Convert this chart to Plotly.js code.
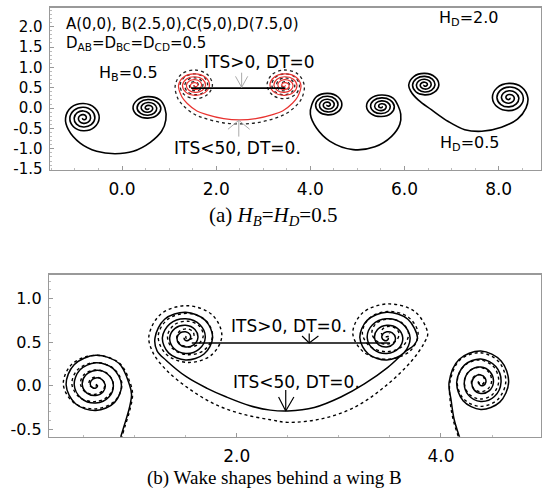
<!DOCTYPE html>
<html><head><meta charset="utf-8">
<script src="https://cdn.plot.ly/plotly-3.0.1.min.js"></script>
<style>html,body{margin:0;padding:0;background:#fff}</style>
</head><body><div id="chart" style="width:542px;height:497px"></div>
<script>
// Normalised vortex-core spiral shape (read from the roll-up), leftmost point first, winding inward
const TEMPLATE_DX = [-1,-0.686,0,0.643,0.88,0.601,0,-0.559,-0.76,-0.516,0,0.474,0.64,0.431,0,-0.389,-0.52,-0.346,0,0.304,0.4,0.262,0,-0.219,-0.28,-0.177,0,0.134,0.16,0.092,0,-0.049,-0.04];
const TEMPLATE_DY = [0,0.686,0.94,0.643,0,-0.601,-0.82,-0.559,0,0.516,0.7,0.474,0,-0.431,-0.58,-0.389,0,0.346,0.46,0.304,0,-0.262,-0.34,-0.219,0,0.177,0.22,0.134,0,-0.092,-0.1,-0.049,0];

// ---- Panel (a): vortices [cx, cy, rx, ry] and wake sheets ----
const A_L = [-0.82, -0.245, 0.38, 0.38];
const A_SHEET_X = [-1.14,-0.89,-0.54,-0.15,0.24,0.6,0.84,0.93];
const A_SHEET_Y = [-0.53,-0.86,-1.06,-1.12,-1.06,-0.84,-0.57,-0.29];
const A_R = [0.55, 0.0, 0.36, 0.3];

const B_RED_L = [1.55, 0.56, 0.35, 0.3];
const B_RED_SHEET_X = [1.27,1.38,1.59,1.8,2.16,2.5,2.84,3.2,3.41,3.62,3.73];
const B_RED_SHEET_Y = [0.28,0.12,-0.07,-0.16,-0.26,-0.29,-0.26,-0.16,-0.07,0.12,0.28];
const B_RED_R = [3.45, 0.56, 0.35, 0.3];

const B_DOT_L = [1.55, 0.56, 0.42, 0.4];
const B_DOT_SHEET_X = [1.18,1.3,1.52,1.78,2.14,2.5,2.86,3.22,3.48,3.7,3.82];
const B_DOT_SHEET_Y = [0.25,0.06,-0.14,-0.26,-0.36,-0.39,-0.36,-0.26,-0.14,0.06,0.25];
const B_DOT_R = [3.45, 0.56, 0.42, 0.4];

const B_LINE_X = [1.47, 3.47];
const B_LINE_Y = [0.49, 0.49];

const C_L = [4.37, 0.08, 0.34, 0.3];
const C_SHEET_X = [4.0,4.13,4.41,4.91,5.37,5.72,5.9,5.92];
const C_SHEET_Y = [-0.15,-0.49,-0.81,-1.02,-0.95,-0.7,-0.4,-0.15];
const C_R = [5.51, 0.04, 0.36, 0.3];

const D_L = [6.43, 0.57, 0.34, 0.3];
const D_SHEET_X = [6.13,6.29,6.57,6.93,7.28,7.64,8.06,8.4,8.58];
const D_SHEET_Y = [0.42,0.2,-0.04,-0.33,-0.53,-0.57,-0.47,-0.27,0.0];
const D_R = [8.22, 0.25, 0.4, 0.38];

const ARROW_A_X = [2.54,2.54,null,2.41,2.54,2.67,null,2.48,2.48,null,2.25,2.48,2.71];
const ARROW_A_Y = [0.87,0.51,null,0.78,0.51,0.78,null,-0.7,-0.3,null,-0.52,-0.3,-0.52];

// ---- Panel (b) ----
const BA_SHEET_X = [0.84,0.9,0.95,0.97];
const BA_SHEET_Y = [-0.68,-0.45,-0.25,-0.1];
const BA_R = [0.62, 0.01, 0.33, 0.36];
const BA_DOT_SHEET_X = [0.85,0.91,0.96,0.98];
const BA_DOT_R = [0.61, 0.02, 0.35, 0.35];

const BB_L = [1.5, 0.55, 0.3, 0.31];
const BB_SHEET_X = [1.22,1.31,1.51,1.71,1.9,2.13,2.33,2.5,2.76,3.02,3.25,3.48,3.64,3.74];
const BB_SHEET_Y = [0.4,0.29,0.1,-0.03,-0.13,-0.23,-0.28,-0.29,-0.25,-0.13,0.02,0.21,0.38,0.47];
const BB_R = [3.47, 0.55, 0.3, 0.31];

const BB_DOT_L = [1.52, 0.57, 0.38, 0.37];
const BB_DOT_SHEET_X = [1.18,1.31,1.54,1.8,2.07,2.33,2.5,2.83,3.15,3.44,3.71,3.84];
const BB_DOT_SHEET_Y = [0.38,0.18,-0.04,-0.22,-0.33,-0.39,-0.42,-0.38,-0.25,-0.02,0.28,0.5];
const BB_DOT_R = [3.48, 0.6, 0.39, 0.36];

const BB_LINE_X = [1.56, 3.5];
const BB_LINE_Y = [0.49, 0.49];

const BC_L = [4.39, 0.04, 0.31, 0.38];
const BC_SHEET_X = [4.1,4.13,4.19,4.21];
const BC_SHEET_Y = [-0.17,-0.39,-0.62,-0.7];
const BC_DOT_L = [4.38, 0.05, 0.29, 0.35];
const BC_DOT_SHEET_X = [4.09,4.12,4.18,4.2];

const ARROW_B_X = [2.71,2.71,null,2.64,2.71,2.8,null,2.48,2.48,null,2.41,2.48,2.56];
const ARROW_B_Y = [0.6,0.49,null,0.57,0.49,0.57,null,-0.05,-0.29,null,-0.13,-0.29,-0.13];

// Tick labels
const XA_TICKS = [0,2,4,6,8];
const XA_LABELS = ['0.0','2.0','4.0','6.0','8.0'];
const YA_TICKS = [-1.5,-1,-0.5,0,0.5,1,1.5,2];
const YA_LABELS = ['-1.5','-1.0','-0.5','0.0','0.5','1.0','1.5','2.0'];
const XB_TICKS = [2,4];
const XB_LABELS = ['2.0','4.0'];
const YB_TICKS = [-0.5,0,0.5,1];
const YB_LABELS = ['-0.5','0.0','0.5','1.0'];

const LABELS_A = ['A(0,0), B(2.5,0),C(5,0),D(7.5,0)', 'D<sub>AB</sub>=D<sub>BC</sub>=D<sub>CD</sub>=0.5',
  'H<sub>B</sub>=0.5', 'ITS&gt;0, DT=0', 'ITS&lt;50, DT=0.', 'H<sub>D</sub>=2.0', 'H<sub>D</sub>=0.5'];
const LABELS_B = ['ITS&gt;0, DT=0.', 'ITS&lt;50, DT=0.'];
const CAPTION_A = '(a) <i>H<sub>B</sub></i>=<i>H<sub>D</sub></i>=0.5';
const CAPTION_B = '(b) Wake shapes behind a wing B';

function spiral(v, mirror, reverse) {
  const xs = [], ys = [];
  for (let k = 0; k < TEMPLATE_DX.length; k++) {
    xs.push(v[0] + (mirror ? -1 : 1) * TEMPLATE_DX[k] * v[2]);
    ys.push(v[1] + TEMPLATE_DY[k] * v[3]);
  }
  if (reverse) { xs.reverse(); ys.reverse(); }
  return [xs, ys];
}
function wake(L, sx, sy, R) {
  let xs = [], ys = [];
  if (L) { const s = spiral(L, false, true); xs = xs.concat(s[0]); ys = ys.concat(s[1]); }
  xs = xs.concat(sx); ys = ys.concat(sy);
  if (R) { const s = spiral(R, true, false); xs = xs.concat(s[0]); ys = ys.concat(s[1]); }
  return [xs, ys];
}
function tr(xy, color, width, dash, xa, ya, shape) {
  return {type:'scatter', mode:'lines', x:xy[0], y:xy[1], xaxis:xa, yaxis:ya,
    line:{color:color, width:width, dash:dash||'solid', shape:shape||'spline', smoothing:1},
    hoverinfo:'skip', showlegend:false};
}

const traces = [
  tr(wake(A_L, A_SHEET_X, A_SHEET_Y, A_R), '#000', 1.6, 'solid', 'x', 'y'),
  tr(wake(B_DOT_L, B_DOT_SHEET_X, B_DOT_SHEET_Y, B_DOT_R), '#222', 1.3, 'dot', 'x', 'y'),
  tr(wake(B_RED_L, B_RED_SHEET_X, B_RED_SHEET_Y, B_RED_R), '#e8322f', 1.2, 'solid', 'x', 'y'),
  tr([B_LINE_X, B_LINE_Y], '#000', 1.8, 'solid', 'x', 'y', 'linear'),
  tr(wake(C_L, C_SHEET_X, C_SHEET_Y, C_R), '#000', 1.6, 'solid', 'x', 'y'),
  tr(wake(D_L, D_SHEET_X, D_SHEET_Y, D_R), '#000', 1.6, 'solid', 'x', 'y'),
  tr([ARROW_A_X, ARROW_A_Y], '#aaa', 1, 'solid', 'x', 'y', 'linear'),

  tr(wake(null, BA_DOT_SHEET_X, BA_SHEET_Y, BA_DOT_R), '#000', 1.4, 'dot', 'x2', 'y2'),
  tr(wake(null, BA_SHEET_X, BA_SHEET_Y, BA_R), '#000', 1.5, 'solid', 'x2', 'y2'),
  tr(wake(BB_DOT_L, BB_DOT_SHEET_X, BB_DOT_SHEET_Y, BB_DOT_R), '#000', 1.4, 'dot', 'x2', 'y2'),
  tr(wake(BB_L, BB_SHEET_X, BB_SHEET_Y, BB_R), '#000', 1.5, 'solid', 'x2', 'y2'),
  tr([BB_LINE_X, BB_LINE_Y], '#000', 1.5, 'solid', 'x2', 'y2', 'linear'),
  tr(wake(BC_DOT_L, BC_DOT_SHEET_X, BC_SHEET_Y, null), '#000', 1.4, 'dot', 'x2', 'y2'),
  tr(wake(BC_L, BC_SHEET_X, BC_SHEET_Y, null), '#000', 1.5, 'solid', 'x2', 'y2'),
  tr([ARROW_B_X, ARROW_B_Y], '#000', 1.2, 'solid', 'x2', 'y2', 'linear')
];

const axisBase = {showline:true, linecolor:'#999', linewidth:1.5, mirror:true, zeroline:false, showgrid:false,
  ticks:'inside', ticklen:4, tickcolor:'#999', tickmode:'array', ticklabelstandoff:3};
const F = 'DejaVu Sans';
function ann(text, x, y, xr, yr, size, family) {
  return {text:text, x:x, y:y, xref:xr, yref:yr, xanchor:'left', yanchor:'middle', showarrow:false,
    borderpad:0, font:{family:family||F, size:size, color:'#000'}};
}

const layout = {
  width:542, height:497, margin:{l:0,r:0,t:0,b:0},
  paper_bgcolor:'#fff', plot_bgcolor:'#fff', showlegend:false,
  xaxis: Object.assign({}, axisBase, {domain:[0.0923,0.9982], range:[-1.53,8.9], anchor:'y',
    tickvals:XA_TICKS, ticktext:XA_LABELS, tickfont:{family:F,size:17,color:'#000'},
    minor:{tickmode:'linear', tick0:0, dtick:0.5, ticks:'inside', ticklen:2, tickcolor:'#bbb'}}),
  yaxis: Object.assign({}, axisBase, {domain:[0.658,0.984], range:[-1.52,2.46], anchor:'x',
    tickvals:YA_TICKS, ticktext:YA_LABELS, tickfont:{family:F,size:15,color:'#000'},
    minor:{tickmode:'linear', tick0:0, dtick:0.1, ticks:'inside', ticklen:2, tickcolor:'#bbb'}}),
  xaxis2: Object.assign({}, axisBase, {domain:[0.091,0.9982], range:[0.165,4.98], anchor:'y2',
    tickvals:XB_TICKS, ticktext:XB_LABELS, tickfont:{family:F,size:17,color:'#000'},
    minor:{tickmode:'linear', tick0:0, dtick:0.5, ticks:'inside', ticklen:2, tickcolor:'#bbb'}}),
  yaxis2: Object.assign({}, axisBase, {domain:[0.1213,0.4467], range:[-0.585,1.27], anchor:'x2',
    tickvals:YB_TICKS, ticktext:YB_LABELS, tickfont:{family:F,size:16,color:'#000'},
    minor:{tickmode:'linear', tick0:0, dtick:0.1, ticks:'inside', ticklen:2, tickcolor:'#bbb'}}),
  annotations: [
    ann(LABELS_A[0], -1.21, 2.07, 'x', 'y', 15),
    ann(LABELS_A[1], -1.21, 1.58, 'x', 'y', 15),
    ann(LABELS_A[2], -0.51, 0.85, 'x', 'y', 16),
    ann(LABELS_A[3], 1.72, 1.13, 'x', 'y', 17),
    ann(LABELS_A[4], 1.085, -0.97, 'x', 'y', 17),
    ann(LABELS_A[5], 6.72, 2.19, 'x', 'y', 16),
    ann(LABELS_A[6], 6.74, -0.87, 'x', 'y', 16),
    ann(LABELS_B[0], 1.93, 0.68, 'x2', 'y2', 17),
    ann(LABELS_B[1], 1.95, 0.045, 'x2', 'y2', 17),
    Object.assign(ann(CAPTION_A, 0.504, 0.566, 'paper', 'paper', 21, 'Liberation Serif'), {xanchor:'center'}),
    Object.assign(ann(CAPTION_B, 0.506, 0.039, 'paper', 'paper', 19, 'Liberation Serif'), {xanchor:'center'})
  ]
};

Plotly.newPlot('chart', traces, layout, {staticPlot:true, displayModeBar:false});
</script></body></html>
